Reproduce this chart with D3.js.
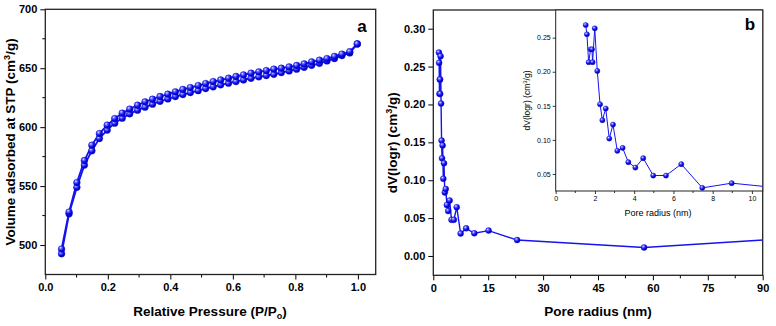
<!DOCTYPE html>
<html>
<head>
<meta charset="utf-8">
<script src="https://cdn.jsdelivr.net/npm/d3@7"></script>
<style>
  body { margin: 0; background: #fff; }
  svg { display: block; font-family: Arial, "Liberation Sans", sans-serif; }
  .tick text { fill: #000; }
</style>
</head>
<body>
<svg id="chart" width="776" height="326"></svg>
<script>
const W = 776, H = 326;

// ---- panel a : N2 isotherm ----
const pressure = [0.052, 0.076, 0.101, 0.125, 0.149, 0.173, 0.198, 0.222, 0.246, 0.270,
  0.295, 0.319, 0.343, 0.367, 0.392, 0.416, 0.440, 0.464, 0.489, 0.513,
  0.537, 0.561, 0.586, 0.610, 0.634, 0.658, 0.683, 0.707, 0.731, 0.755,
  0.780, 0.804, 0.828, 0.852, 0.877, 0.901, 0.925, 0.949, 0.974, 0.998];
const desorption = [496.6, 528, 553, 571.7, 584.7, 594.6, 601.7, 607.3, 611.9, 615.3,
  618.6, 621.5, 623.7, 626, 628, 630, 632, 633.6, 635.3, 637,
  638.7, 640, 641.5, 643, 644.3, 645.8, 646.9, 648, 649.2, 650,
  651.1, 652.3, 653.7, 655.4, 656.8, 658.2, 660, 661.9, 664, 670.6];
const adsorption = [492.6, 526.5, 549, 567.8, 580, 590.4, 597.5, 603.4, 607.6, 611.3,
  614.4, 617, 619.5, 622, 624, 626, 627.7, 629.4, 631, 632.8,
  634.2, 635.9, 637.3, 638.7, 640.1, 641.5, 642.7, 643.8, 644.9, 646.3,
  647.7, 649.2, 650.8, 652.5, 654.2, 656.2, 658.2, 660.7, 663, 670.6];
const aXTicks = [0, 0.2, 0.4, 0.6, 0.8, 1.0];
const aYTicks = [500, 550, 600, 650, 700];

// ---- panel b : pore size distribution ----
const poreRadius = [1.53, 1.59, 1.68, 1.78, 1.85, 1.88, 1.99, 2.12, 2.26, 2.38,
  2.55, 2.73, 2.92, 3.14, 3.41, 3.70, 4.06, 4.46, 4.97, 5.62,
  6.40, 7.47, 8.97, 11.2, 15.1, 22.9, 57.6, 105];
const dVlogr = [0.2686, 0.255, 0.214, 0.233, 0.233, 0.214, 0.2637, 0.2012, 0.1523, 0.1289,
  0.146, 0.102, 0.1225, 0.0839, 0.0883, 0.0673, 0.0594, 0.0732, 0.0477, 0.0477,
  0.0644, 0.0296, 0.0365, 0.030, 0.0335, 0.021, 0.0112, 0.0255];
const bXTicks = [0, 15, 30, 45, 60, 75, 90];
const bYTicks = [0, 0.05, 0.10, 0.15, 0.20, 0.25, 0.30];
const insetXTicks = [0, 2, 4, 6, 8, 10];
const insetYTicks = [0.05, 0.10, 0.15, 0.20, 0.25];

const svg = d3.select("#chart");
const defs = svg.append("defs");

/* shaded ball marker */
const grad = defs.append("radialGradient")
  .attr("id", "ball").attr("cx", "38%").attr("cy", "35%").attr("r", "65%")
  .attr("fx", "35%").attr("fy", "30%");
grad.append("stop").attr("offset", "0%").attr("stop-color", "#f2f3ff");
grad.append("stop").attr("offset", "25%").attr("stop-color", "#7070ff");
grad.append("stop").attr("offset", "65%").attr("stop-color", "#0a0af0");
grad.append("stop").attr("offset", "100%").attr("stop-color", "#0000b0");

function clip(id, x0, y0, x1, y1) {
  defs.append("clipPath").attr("id", id)
    .append("rect").attr("x", x0).attr("y", y0).attr("width", x1 - x0).attr("height", y1 - y0);
}

function frame(g, x0, y0, x1, y1, sw) {
  g.append("rect").attr("x", x0).attr("y", y0).attr("width", x1 - x0).attr("height", y1 - y0)
    .attr("fill", "none").attr("stroke", "#222").attr("stroke-width", sw);
}

function minorTicks(g, scale, vals, orient, len, sw) {
  vals.forEach((v) => {
    const p = scale(v);
    if (orient === "bottom") {
      g.append("line").attr("x1", p).attr("x2", p).attr("y1", 0).attr("y2", len)
        .attr("stroke", "#000").attr("stroke-width", sw);
    } else {
      g.append("line").attr("y1", p).attr("y2", p).attr("x1", 0).attr("x2", -len)
        .attr("stroke", "#000").attr("stroke-width", sw);
    }
  });
}

function styleAxis(g, size, weight, sw) {
  g.select(".domain").remove();
  g.selectAll(".tick line").attr("stroke", "#000").attr("stroke-width", sw);
  g.selectAll(".tick text").attr("font-size", size).attr("font-weight", weight);
}

function balls(g, data, x, y, r) {
  g.selectAll(null).data(data).enter().append("circle")
    .attr("cx", (d) => x(d[0])).attr("cy", (d) => y(d[1])).attr("r", r)
    .attr("fill", "url(#ball)").attr("stroke", "#1010c8").attr("stroke-width", 0.4);
}

/* ================= panel a ================= */
const A = { x0: 45.3, x1: 375.7, y0: 9.3, y1: 274.5 };
const ax = d3.scaleLinear().domain([0, 1.057]).range([A.x0, A.x1]);
const ay = d3.scaleLinear().domain([475, 700]).range([A.y1, A.y0]);
const gA = svg.append("g");

const axA = gA.append("g").attr("transform", `translate(0,${A.y1})`)
  .call(d3.axisBottom(ax).tickValues(aXTicks).tickFormat(d3.format(".1f")).tickSize(5).tickPadding(4));
styleAxis(axA, 11, "bold", 1);
minorTicks(axA, ax, [0.1, 0.3, 0.5, 0.7, 0.9], "bottom", 3, 1);

const ayA = gA.append("g").attr("transform", `translate(${A.x0},0)`)
  .call(d3.axisLeft(ay).tickValues(aYTicks).tickSize(5).tickPadding(3));
styleAxis(ayA, 11, "bold", 1);
minorTicks(ayA, ay, [525, 575, 625, 675], "left", 3, 1);
frame(gA, A.x0, A.y0, A.x1, A.y1, 1.3);

const lineA = d3.line().x((d) => ax(d[0])).y((d) => ay(d[1]));
const adsData = pressure.map((p, i) => [p, adsorption[i]]);
const desData = pressure.map((p, i) => [p, desorption[i]]);
[adsData, desData].forEach((s) => {
  gA.append("path").attr("d", lineA(s)).attr("fill", "none")
    .attr("stroke", "#1414f0").attr("stroke-width", 1.8);
});
balls(gA, adsData, ax, ay, 3.4);
balls(gA, desData, ax, ay, 3.4);

gA.append("text").attr("x", 362).attr("y", 31.5).attr("text-anchor", "middle")
  .attr("font-size", 17).attr("font-weight", "bold").text("a");

const xlabA = gA.append("text").attr("x", 210).attr("y", 315.5).attr("text-anchor", "middle")
  .attr("font-size", 13.5).attr("font-weight", "bold");
xlabA.append("tspan").text("Relative Pressure (P/P");
xlabA.append("tspan").attr("font-size", 9).attr("dy", 3).text("o");
xlabA.append("tspan").attr("dy", -3).text(")");

const ylabA = gA.append("text").attr("transform", `translate(14.5,${(A.y0 + A.y1) / 2}) rotate(-90)`)
  .attr("text-anchor", "middle").attr("font-size", 13.5).attr("font-weight", "bold");
ylabA.append("tspan").text("Volume adsorbed at STP (cm");
ylabA.append("tspan").attr("font-size", 9).attr("dy", -5).text("3");
ylabA.append("tspan").attr("dy", 5).text("/g)");

/* ================= panel b ================= */
const B = { x0: 433.3, x1: 762.7, y0: 10, y1: 275.3 };
const bx = d3.scaleLinear().domain([0, 90]).range([B.x0, B.x1]);
const by = d3.scaleLinear().domain([-0.0255, 0.3247]).range([B.y1, B.y0]);
const gB = svg.append("g");
clip("clipB", B.x0, B.y0, B.x1, B.y1);

const axB = gB.append("g").attr("transform", `translate(0,${B.y1})`)
  .call(d3.axisBottom(bx).tickValues(bXTicks).tickSize(5).tickPadding(4));
styleAxis(axB, 11, "bold", 1);
minorTicks(axB, bx, [7.5, 22.5, 37.5, 52.5, 67.5, 82.5], "bottom", 3, 1);

const ayB = gB.append("g").attr("transform", `translate(${B.x0},0)`)
  .call(d3.axisLeft(by).tickValues(bYTicks).tickFormat(d3.format(".2f")).tickSize(5).tickPadding(3));
styleAxis(ayB, 11, "bold", 1);
frame(gB, B.x0, B.y0, B.x1, B.y1, 1.3);

const psd = poreRadius.map((r, i) => [r, dVlogr[i]]);
const gBdata = gB.append("g").attr("clip-path", "url(#clipB)");
gBdata.append("path").attr("d", d3.line().x((d) => bx(d[0])).y((d) => by(d[1]))(psd))
  .attr("fill", "none").attr("stroke", "#1414f0").attr("stroke-width", 1.4);
balls(gBdata, psd, bx, by, 3);

gB.append("text").attr("x", 598).attr("y", 316).attr("text-anchor", "middle")
  .attr("font-size", 13.5).attr("font-weight", "bold").text("Pore radius (nm)");

const ylabB = gB.append("text").attr("transform", `translate(397,${(B.y0 + B.y1) / 2}) rotate(-90)`)
  .attr("text-anchor", "middle").attr("font-size", 13.5).attr("font-weight", "bold");
ylabB.append("tspan").text("dV(logr) (cm");
ylabB.append("tspan").attr("font-size", 9).attr("dy", -5).text("3");
ylabB.append("tspan").attr("dy", 5).text("/g)");

/* ---- inset ---- */
const I = { x0: 555.7, x1: 762.7, y0: 10, y1: 191 };
const ix = d3.scaleLinear().domain([0, 10.55]).range([I.x0, I.x1]);
const iy = d3.scaleLinear().domain([0.025, 0.2906]).range([I.y1, I.y0]);
const gI = svg.append("g");
clip("clipI", I.x0, I.y0, I.x1, I.y1);
gI.append("rect").attr("x", I.x0).attr("y", I.y0).attr("width", I.x1 - I.x0)
  .attr("height", I.y1 - I.y0).attr("fill", "#fff");

const axI = gI.append("g").attr("transform", `translate(0,${I.y1})`)
  .call(d3.axisBottom(ix).tickValues(insetXTicks).tickSize(3).tickPadding(2));
styleAxis(axI, 7, "normal", 0.8);
minorTicks(axI, ix, [1, 3, 5, 7, 9], "bottom", 2, 0.8);

const ayI = gI.append("g").attr("transform", `translate(${I.x0},0)`)
  .call(d3.axisLeft(iy).tickValues(insetYTicks).tickFormat(d3.format(".2f")).tickSize(3).tickPadding(2));
styleAxis(ayI, 7, "normal", 0.8);
frame(gI, I.x0, I.y0, I.x1, I.y1, 1);

const gIdata = gI.append("g").attr("clip-path", "url(#clipI)");
gIdata.append("path").attr("d", d3.line().x((d) => ix(d[0])).y((d) => iy(d[1]))(psd))
  .attr("fill", "none").attr("stroke", "#1414f0").attr("stroke-width", 1);
balls(gIdata, psd.filter((d) => d[0] < 11), ix, iy, 2.6);

gI.append("text").attr("x", 658).attr("y", 216).attr("text-anchor", "middle")
  .attr("font-size", 9).text("Pore radius (nm)");
const ylabI = gI.append("text").attr("transform", `translate(529.5,${(I.y0 + I.y1) / 2}) rotate(-90)`)
  .attr("text-anchor", "middle").attr("font-size", 8.5);
ylabI.append("tspan").text("dV(logr) (cm");
ylabI.append("tspan").attr("font-size", 6).attr("dy", -3).text("3");
ylabI.append("tspan").attr("dy", 3).text("/g)");

svg.append("text").attr("x", 750).attr("y", 29.5).attr("text-anchor", "middle")
  .attr("font-size", 17).attr("font-weight", "bold").text("b");
</script>
</body>
</html>
